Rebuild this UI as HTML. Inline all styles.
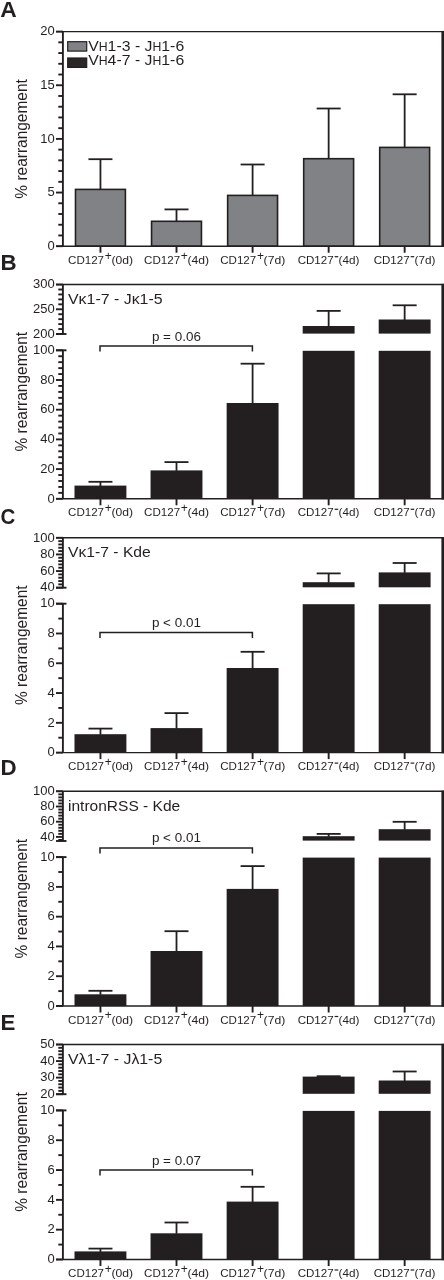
<!DOCTYPE html>
<html><head><meta charset="utf-8"><title>Figure</title>
<style>
html,body{margin:0;padding:0;background:#fff;}
body{width:444px;height:1280px;overflow:hidden;}
svg{display:block;will-change:transform;font-family:"Liberation Sans",sans-serif;}
</style></head>
<body>
<svg width="444" height="1280" viewBox="0 0 444 1280">
<rect x="0" y="0" width="444" height="1280" fill="#ffffff"/>
<text x="0.20" y="16.60" font-size="22.8" text-anchor="start" font-weight="bold" fill="#231f20" >A</text>
<line x1="100.45" y1="159.20" x2="100.45" y2="189.10" stroke="#231f20" stroke-width="1.8"/>
<line x1="88.45" y1="159.20" x2="112.45" y2="159.20" stroke="#231f20" stroke-width="1.8"/>
<rect x="75.50" y="189.40" width="49.90" height="56.80" fill="#808285" stroke="#231f20" stroke-width="1.6"/>
<line x1="176.50" y1="209.40" x2="176.50" y2="221.00" stroke="#231f20" stroke-width="1.8"/>
<line x1="164.50" y1="209.40" x2="188.50" y2="209.40" stroke="#231f20" stroke-width="1.8"/>
<rect x="151.55" y="221.30" width="49.90" height="24.90" fill="#808285" stroke="#231f20" stroke-width="1.6"/>
<line x1="252.60" y1="164.50" x2="252.60" y2="195.10" stroke="#231f20" stroke-width="1.8"/>
<line x1="240.60" y1="164.50" x2="264.60" y2="164.50" stroke="#231f20" stroke-width="1.8"/>
<rect x="227.65" y="195.40" width="49.90" height="50.80" fill="#808285" stroke="#231f20" stroke-width="1.6"/>
<line x1="328.65" y1="108.50" x2="328.65" y2="158.40" stroke="#231f20" stroke-width="1.8"/>
<line x1="316.65" y1="108.50" x2="340.65" y2="108.50" stroke="#231f20" stroke-width="1.8"/>
<rect x="303.70" y="158.70" width="49.90" height="87.50" fill="#808285" stroke="#231f20" stroke-width="1.6"/>
<line x1="404.65" y1="94.30" x2="404.65" y2="147.10" stroke="#231f20" stroke-width="1.8"/>
<line x1="392.65" y1="94.30" x2="416.65" y2="94.30" stroke="#231f20" stroke-width="1.8"/>
<rect x="379.70" y="147.40" width="49.90" height="98.80" fill="#808285" stroke="#231f20" stroke-width="1.6"/>
<line x1="62.90" y1="31.60" x2="62.90" y2="246.20" stroke="#231f20" stroke-width="1.9"/>
<line x1="56.00" y1="31.60" x2="444.00" y2="31.60" stroke="#231f20" stroke-width="1.4"/>
<line x1="56.00" y1="246.20" x2="444.00" y2="246.20" stroke="#231f20" stroke-width="1.4"/>
<rect x="441.40" y="30.90" width="2.60" height="216.00" fill="#231f20"/>
<line x1="56.00" y1="246.20" x2="62.90" y2="246.20" stroke="#231f20" stroke-width="1.9"/>
<text x="54.70" y="249.90" font-size="13" text-anchor="end" fill="#231f20" >0</text>
<line x1="58.30" y1="235.47" x2="62.90" y2="235.47" stroke="#231f20" stroke-width="1.9"/>
<line x1="58.30" y1="224.74" x2="62.90" y2="224.74" stroke="#231f20" stroke-width="1.9"/>
<line x1="58.30" y1="214.01" x2="62.90" y2="214.01" stroke="#231f20" stroke-width="1.9"/>
<line x1="58.30" y1="203.28" x2="62.90" y2="203.28" stroke="#231f20" stroke-width="1.9"/>
<line x1="56.00" y1="192.55" x2="62.90" y2="192.55" stroke="#231f20" stroke-width="1.9"/>
<text x="54.70" y="196.25" font-size="13" text-anchor="end" fill="#231f20" >5</text>
<line x1="58.30" y1="181.82" x2="62.90" y2="181.82" stroke="#231f20" stroke-width="1.9"/>
<line x1="58.30" y1="171.09" x2="62.90" y2="171.09" stroke="#231f20" stroke-width="1.9"/>
<line x1="58.30" y1="160.36" x2="62.90" y2="160.36" stroke="#231f20" stroke-width="1.9"/>
<line x1="58.30" y1="149.63" x2="62.90" y2="149.63" stroke="#231f20" stroke-width="1.9"/>
<line x1="56.00" y1="138.90" x2="62.90" y2="138.90" stroke="#231f20" stroke-width="1.9"/>
<text x="54.70" y="142.60" font-size="13" text-anchor="end" fill="#231f20" >10</text>
<line x1="58.30" y1="128.17" x2="62.90" y2="128.17" stroke="#231f20" stroke-width="1.9"/>
<line x1="58.30" y1="117.44" x2="62.90" y2="117.44" stroke="#231f20" stroke-width="1.9"/>
<line x1="58.30" y1="106.71" x2="62.90" y2="106.71" stroke="#231f20" stroke-width="1.9"/>
<line x1="58.30" y1="95.98" x2="62.90" y2="95.98" stroke="#231f20" stroke-width="1.9"/>
<line x1="56.00" y1="85.25" x2="62.90" y2="85.25" stroke="#231f20" stroke-width="1.9"/>
<text x="54.70" y="88.95" font-size="13" text-anchor="end" fill="#231f20" >15</text>
<line x1="58.30" y1="74.52" x2="62.90" y2="74.52" stroke="#231f20" stroke-width="1.9"/>
<line x1="58.30" y1="63.79" x2="62.90" y2="63.79" stroke="#231f20" stroke-width="1.9"/>
<line x1="58.30" y1="53.06" x2="62.90" y2="53.06" stroke="#231f20" stroke-width="1.9"/>
<line x1="58.30" y1="42.33" x2="62.90" y2="42.33" stroke="#231f20" stroke-width="1.9"/>
<line x1="56.00" y1="31.60" x2="62.90" y2="31.60" stroke="#231f20" stroke-width="1.9"/>
<text x="54.70" y="35.30" font-size="13" text-anchor="end" fill="#231f20" >20</text>
<text transform="translate(26.5,138.90) rotate(-90)" font-size="16.6" text-anchor="middle" textLength="119.5" lengthAdjust="spacingAndGlyphs" fill="#231f20">% rearrangement</text>
<line x1="100.45" y1="246.20" x2="100.45" y2="252.70" stroke="#231f20" stroke-width="1.9"/>
<text x="68.05" y="263.70" font-size="11.8" text-anchor="start" textLength="36.0" lengthAdjust="spacingAndGlyphs" fill="#231f20" >CD127</text>
<text x="104.75" y="259.50" font-size="12.0" text-anchor="start" fill="#231f20" >+</text>
<text x="111.45" y="263.70" font-size="11.8" text-anchor="start" textLength="21.6" lengthAdjust="spacingAndGlyphs" fill="#231f20" >(0d)</text>
<line x1="176.50" y1="246.20" x2="176.50" y2="252.70" stroke="#231f20" stroke-width="1.9"/>
<text x="144.10" y="263.70" font-size="11.8" text-anchor="start" textLength="36.0" lengthAdjust="spacingAndGlyphs" fill="#231f20" >CD127</text>
<text x="180.80" y="259.50" font-size="12.0" text-anchor="start" fill="#231f20" >+</text>
<text x="187.50" y="263.70" font-size="11.8" text-anchor="start" textLength="21.6" lengthAdjust="spacingAndGlyphs" fill="#231f20" >(4d)</text>
<line x1="252.60" y1="246.20" x2="252.60" y2="252.70" stroke="#231f20" stroke-width="1.9"/>
<text x="220.20" y="263.70" font-size="11.8" text-anchor="start" textLength="36.0" lengthAdjust="spacingAndGlyphs" fill="#231f20" >CD127</text>
<text x="256.90" y="259.50" font-size="12.0" text-anchor="start" fill="#231f20" >+</text>
<text x="263.60" y="263.70" font-size="11.8" text-anchor="start" textLength="21.6" lengthAdjust="spacingAndGlyphs" fill="#231f20" >(7d)</text>
<line x1="328.65" y1="246.20" x2="328.65" y2="252.70" stroke="#231f20" stroke-width="1.9"/>
<text x="297.65" y="263.70" font-size="11.8" text-anchor="start" textLength="36.0" lengthAdjust="spacingAndGlyphs" fill="#231f20" >CD127</text>
<line x1="334.65" y1="256.70" x2="338.25" y2="256.70" stroke="#231f20" stroke-width="1.2"/>
<text x="338.55" y="263.70" font-size="11.8" text-anchor="start" textLength="20.8" lengthAdjust="spacingAndGlyphs" fill="#231f20" >(4d)</text>
<line x1="404.65" y1="246.20" x2="404.65" y2="252.70" stroke="#231f20" stroke-width="1.9"/>
<text x="373.65" y="263.70" font-size="11.8" text-anchor="start" textLength="36.0" lengthAdjust="spacingAndGlyphs" fill="#231f20" >CD127</text>
<line x1="410.65" y1="256.70" x2="414.25" y2="256.70" stroke="#231f20" stroke-width="1.2"/>
<text x="414.55" y="263.70" font-size="11.8" text-anchor="start" textLength="20.8" lengthAdjust="spacingAndGlyphs" fill="#231f20" >(7d)</text>
<rect x="67.70" y="41.70" width="19.00" height="9.40" fill="#808285" stroke="#231f20" stroke-width="1.2"/>
<rect x="67.70" y="58.00" width="19.00" height="9.40" fill="#2b2728" stroke="#231f20" stroke-width="1.2"/>
<text x="88.2" y="50.5" font-size="15.5" fill="#231f20" textLength="96" lengthAdjust="spacingAndGlyphs">V<tspan font-size="12">H</tspan>1-3 - J<tspan font-size="12">H</tspan>1-6</text>
<text x="88.2" y="65.4" font-size="15.5" fill="#231f20" textLength="96" lengthAdjust="spacingAndGlyphs">V<tspan font-size="12">H</tspan>4-7 - J<tspan font-size="12">H</tspan>1-6</text>
<text x="0.60" y="269.80" font-size="22.3" text-anchor="start" font-weight="bold" fill="#231f20" >B</text>
<line x1="100.45" y1="481.80" x2="100.45" y2="486.10" stroke="#231f20" stroke-width="1.8"/>
<line x1="88.45" y1="481.80" x2="112.45" y2="481.80" stroke="#231f20" stroke-width="1.8"/>
<rect x="74.50" y="485.60" width="51.90" height="13.20" fill="#231f20"/>
<line x1="176.50" y1="462.10" x2="176.50" y2="470.90" stroke="#231f20" stroke-width="1.8"/>
<line x1="164.50" y1="462.10" x2="188.50" y2="462.10" stroke="#231f20" stroke-width="1.8"/>
<rect x="150.55" y="470.40" width="51.90" height="28.40" fill="#231f20"/>
<line x1="252.60" y1="363.70" x2="252.60" y2="403.50" stroke="#231f20" stroke-width="1.8"/>
<line x1="240.60" y1="363.70" x2="264.60" y2="363.70" stroke="#231f20" stroke-width="1.8"/>
<rect x="226.65" y="403.00" width="51.90" height="95.80" fill="#231f20"/>
<line x1="328.65" y1="310.90" x2="328.65" y2="326.50" stroke="#231f20" stroke-width="1.8"/>
<line x1="316.65" y1="310.90" x2="340.65" y2="310.90" stroke="#231f20" stroke-width="1.8"/>
<rect x="302.70" y="326.00" width="51.90" height="7.60" fill="#231f20"/>
<rect x="302.70" y="350.80" width="51.90" height="148.00" fill="#231f20"/>
<line x1="404.65" y1="305.30" x2="404.65" y2="320.00" stroke="#231f20" stroke-width="1.8"/>
<line x1="392.65" y1="305.30" x2="416.65" y2="305.30" stroke="#231f20" stroke-width="1.8"/>
<rect x="378.70" y="319.50" width="51.90" height="14.10" fill="#231f20"/>
<rect x="378.70" y="350.80" width="51.90" height="148.00" fill="#231f20"/>
<line x1="62.90" y1="284.55" x2="62.90" y2="334.00" stroke="#231f20" stroke-width="1.9"/>
<line x1="62.90" y1="350.30" x2="62.90" y2="498.80" stroke="#231f20" stroke-width="1.9"/>
<line x1="56.00" y1="284.55" x2="444.00" y2="284.55" stroke="#231f20" stroke-width="1.4"/>
<line x1="56.00" y1="498.80" x2="444.00" y2="498.80" stroke="#231f20" stroke-width="1.4"/>
<rect x="441.40" y="283.85" width="2.60" height="215.65" fill="#231f20"/>
<line x1="56.00" y1="334.00" x2="66.50" y2="334.00" stroke="#231f20" stroke-width="1.9"/>
<line x1="56.00" y1="350.30" x2="66.50" y2="350.30" stroke="#231f20" stroke-width="1.9"/>
<line x1="56.00" y1="284.55" x2="62.90" y2="284.55" stroke="#231f20" stroke-width="1.9"/>
<text x="54.70" y="288.25" font-size="13" text-anchor="end" fill="#231f20" >300</text>
<line x1="58.30" y1="289.50" x2="62.90" y2="289.50" stroke="#231f20" stroke-width="1.9"/>
<line x1="58.30" y1="294.44" x2="62.90" y2="294.44" stroke="#231f20" stroke-width="1.9"/>
<line x1="58.30" y1="299.38" x2="62.90" y2="299.38" stroke="#231f20" stroke-width="1.9"/>
<line x1="58.30" y1="304.33" x2="62.90" y2="304.33" stroke="#231f20" stroke-width="1.9"/>
<line x1="56.00" y1="309.27" x2="62.90" y2="309.27" stroke="#231f20" stroke-width="1.9"/>
<text x="54.70" y="312.97" font-size="13" text-anchor="end" fill="#231f20" >250</text>
<line x1="58.30" y1="314.22" x2="62.90" y2="314.22" stroke="#231f20" stroke-width="1.9"/>
<line x1="58.30" y1="319.16" x2="62.90" y2="319.16" stroke="#231f20" stroke-width="1.9"/>
<line x1="58.30" y1="324.11" x2="62.90" y2="324.11" stroke="#231f20" stroke-width="1.9"/>
<line x1="58.30" y1="329.06" x2="62.90" y2="329.06" stroke="#231f20" stroke-width="1.9"/>
<line x1="56.00" y1="334.00" x2="62.90" y2="334.00" stroke="#231f20" stroke-width="1.9"/>
<text x="54.70" y="337.70" font-size="13" text-anchor="end" fill="#231f20" >200</text>
<line x1="56.00" y1="350.30" x2="62.90" y2="350.30" stroke="#231f20" stroke-width="1.9"/>
<text x="54.70" y="354.00" font-size="13" text-anchor="end" fill="#231f20" >100</text>
<line x1="58.30" y1="356.24" x2="62.90" y2="356.24" stroke="#231f20" stroke-width="1.9"/>
<line x1="58.30" y1="362.18" x2="62.90" y2="362.18" stroke="#231f20" stroke-width="1.9"/>
<line x1="58.30" y1="368.12" x2="62.90" y2="368.12" stroke="#231f20" stroke-width="1.9"/>
<line x1="58.30" y1="374.06" x2="62.90" y2="374.06" stroke="#231f20" stroke-width="1.9"/>
<line x1="56.00" y1="380.00" x2="62.90" y2="380.00" stroke="#231f20" stroke-width="1.9"/>
<text x="54.70" y="383.70" font-size="13" text-anchor="end" fill="#231f20" >80</text>
<line x1="58.30" y1="385.94" x2="62.90" y2="385.94" stroke="#231f20" stroke-width="1.9"/>
<line x1="58.30" y1="391.88" x2="62.90" y2="391.88" stroke="#231f20" stroke-width="1.9"/>
<line x1="58.30" y1="397.82" x2="62.90" y2="397.82" stroke="#231f20" stroke-width="1.9"/>
<line x1="58.30" y1="403.76" x2="62.90" y2="403.76" stroke="#231f20" stroke-width="1.9"/>
<line x1="56.00" y1="409.70" x2="62.90" y2="409.70" stroke="#231f20" stroke-width="1.9"/>
<text x="54.70" y="413.40" font-size="13" text-anchor="end" fill="#231f20" >60</text>
<line x1="58.30" y1="415.64" x2="62.90" y2="415.64" stroke="#231f20" stroke-width="1.9"/>
<line x1="58.30" y1="421.58" x2="62.90" y2="421.58" stroke="#231f20" stroke-width="1.9"/>
<line x1="58.30" y1="427.52" x2="62.90" y2="427.52" stroke="#231f20" stroke-width="1.9"/>
<line x1="58.30" y1="433.46" x2="62.90" y2="433.46" stroke="#231f20" stroke-width="1.9"/>
<line x1="56.00" y1="439.40" x2="62.90" y2="439.40" stroke="#231f20" stroke-width="1.9"/>
<text x="54.70" y="443.10" font-size="13" text-anchor="end" fill="#231f20" >40</text>
<line x1="58.30" y1="445.34" x2="62.90" y2="445.34" stroke="#231f20" stroke-width="1.9"/>
<line x1="58.30" y1="451.28" x2="62.90" y2="451.28" stroke="#231f20" stroke-width="1.9"/>
<line x1="58.30" y1="457.22" x2="62.90" y2="457.22" stroke="#231f20" stroke-width="1.9"/>
<line x1="58.30" y1="463.16" x2="62.90" y2="463.16" stroke="#231f20" stroke-width="1.9"/>
<line x1="56.00" y1="469.10" x2="62.90" y2="469.10" stroke="#231f20" stroke-width="1.9"/>
<text x="54.70" y="472.80" font-size="13" text-anchor="end" fill="#231f20" >20</text>
<line x1="58.30" y1="475.04" x2="62.90" y2="475.04" stroke="#231f20" stroke-width="1.9"/>
<line x1="58.30" y1="480.98" x2="62.90" y2="480.98" stroke="#231f20" stroke-width="1.9"/>
<line x1="58.30" y1="486.92" x2="62.90" y2="486.92" stroke="#231f20" stroke-width="1.9"/>
<line x1="58.30" y1="492.86" x2="62.90" y2="492.86" stroke="#231f20" stroke-width="1.9"/>
<line x1="56.00" y1="498.80" x2="62.90" y2="498.80" stroke="#231f20" stroke-width="1.9"/>
<text x="54.70" y="502.50" font-size="13" text-anchor="end" fill="#231f20" >0</text>
<text transform="translate(26.5,391.68) rotate(-90)" font-size="16.6" text-anchor="middle" textLength="119.5" lengthAdjust="spacingAndGlyphs" fill="#231f20">% rearrangement</text>
<line x1="100.45" y1="498.80" x2="100.45" y2="505.30" stroke="#231f20" stroke-width="1.9"/>
<text x="68.05" y="516.30" font-size="11.8" text-anchor="start" textLength="36.0" lengthAdjust="spacingAndGlyphs" fill="#231f20" >CD127</text>
<text x="104.75" y="512.10" font-size="12.0" text-anchor="start" fill="#231f20" >+</text>
<text x="111.45" y="516.30" font-size="11.8" text-anchor="start" textLength="21.6" lengthAdjust="spacingAndGlyphs" fill="#231f20" >(0d)</text>
<line x1="176.50" y1="498.80" x2="176.50" y2="505.30" stroke="#231f20" stroke-width="1.9"/>
<text x="144.10" y="516.30" font-size="11.8" text-anchor="start" textLength="36.0" lengthAdjust="spacingAndGlyphs" fill="#231f20" >CD127</text>
<text x="180.80" y="512.10" font-size="12.0" text-anchor="start" fill="#231f20" >+</text>
<text x="187.50" y="516.30" font-size="11.8" text-anchor="start" textLength="21.6" lengthAdjust="spacingAndGlyphs" fill="#231f20" >(4d)</text>
<line x1="252.60" y1="498.80" x2="252.60" y2="505.30" stroke="#231f20" stroke-width="1.9"/>
<text x="220.20" y="516.30" font-size="11.8" text-anchor="start" textLength="36.0" lengthAdjust="spacingAndGlyphs" fill="#231f20" >CD127</text>
<text x="256.90" y="512.10" font-size="12.0" text-anchor="start" fill="#231f20" >+</text>
<text x="263.60" y="516.30" font-size="11.8" text-anchor="start" textLength="21.6" lengthAdjust="spacingAndGlyphs" fill="#231f20" >(7d)</text>
<line x1="328.65" y1="498.80" x2="328.65" y2="505.30" stroke="#231f20" stroke-width="1.9"/>
<text x="297.65" y="516.30" font-size="11.8" text-anchor="start" textLength="36.0" lengthAdjust="spacingAndGlyphs" fill="#231f20" >CD127</text>
<line x1="334.65" y1="509.30" x2="338.25" y2="509.30" stroke="#231f20" stroke-width="1.2"/>
<text x="338.55" y="516.30" font-size="11.8" text-anchor="start" textLength="20.8" lengthAdjust="spacingAndGlyphs" fill="#231f20" >(4d)</text>
<line x1="404.65" y1="498.80" x2="404.65" y2="505.30" stroke="#231f20" stroke-width="1.9"/>
<text x="373.65" y="516.30" font-size="11.8" text-anchor="start" textLength="36.0" lengthAdjust="spacingAndGlyphs" fill="#231f20" >CD127</text>
<line x1="410.65" y1="509.30" x2="414.25" y2="509.30" stroke="#231f20" stroke-width="1.2"/>
<text x="414.55" y="516.30" font-size="11.8" text-anchor="start" textLength="20.8" lengthAdjust="spacingAndGlyphs" fill="#231f20" >(7d)</text>
<text x="68.0" y="303.85" font-size="15.5" fill="#231f20" textLength="94.6" lengthAdjust="spacingAndGlyphs">V&#954;1-7 - J&#954;1-5</text>
<path d="M100.0 351.40 V345.90 H252.4 V351.40" fill="none" stroke="#231f20" stroke-width="1.5"/>
<text x="151.90" y="341.10" font-size="12.6" text-anchor="start" textLength="49.0" lengthAdjust="spacingAndGlyphs" fill="#231f20" >p = 0.06</text>
<text x="0.60" y="524.00" font-size="22.3" text-anchor="start" font-weight="bold" textLength="14.8" lengthAdjust="spacingAndGlyphs" fill="#231f20" >C</text>
<line x1="100.45" y1="728.60" x2="100.45" y2="734.70" stroke="#231f20" stroke-width="1.8"/>
<line x1="88.45" y1="728.60" x2="112.45" y2="728.60" stroke="#231f20" stroke-width="1.8"/>
<rect x="74.50" y="734.20" width="51.90" height="18.40" fill="#231f20"/>
<line x1="176.50" y1="713.10" x2="176.50" y2="728.60" stroke="#231f20" stroke-width="1.8"/>
<line x1="164.50" y1="713.10" x2="188.50" y2="713.10" stroke="#231f20" stroke-width="1.8"/>
<rect x="150.55" y="728.10" width="51.90" height="24.50" fill="#231f20"/>
<line x1="252.60" y1="651.80" x2="252.60" y2="668.50" stroke="#231f20" stroke-width="1.8"/>
<line x1="240.60" y1="651.80" x2="264.60" y2="651.80" stroke="#231f20" stroke-width="1.8"/>
<rect x="226.65" y="668.00" width="51.90" height="84.60" fill="#231f20"/>
<line x1="328.65" y1="573.40" x2="328.65" y2="582.70" stroke="#231f20" stroke-width="1.8"/>
<line x1="316.65" y1="573.40" x2="340.65" y2="573.40" stroke="#231f20" stroke-width="1.8"/>
<rect x="302.70" y="582.20" width="51.90" height="5.10" fill="#231f20"/>
<rect x="302.70" y="604.20" width="51.90" height="148.40" fill="#231f20"/>
<line x1="404.65" y1="563.00" x2="404.65" y2="572.90" stroke="#231f20" stroke-width="1.8"/>
<line x1="392.65" y1="563.00" x2="416.65" y2="563.00" stroke="#231f20" stroke-width="1.8"/>
<rect x="378.70" y="572.40" width="51.90" height="14.90" fill="#231f20"/>
<rect x="378.70" y="604.20" width="51.90" height="148.40" fill="#231f20"/>
<line x1="62.90" y1="537.80" x2="62.90" y2="587.70" stroke="#231f20" stroke-width="1.9"/>
<line x1="62.90" y1="603.70" x2="62.90" y2="752.60" stroke="#231f20" stroke-width="1.9"/>
<line x1="56.00" y1="537.80" x2="444.00" y2="537.80" stroke="#231f20" stroke-width="1.4"/>
<line x1="56.00" y1="752.60" x2="444.00" y2="752.60" stroke="#231f20" stroke-width="1.4"/>
<rect x="441.40" y="537.10" width="2.60" height="216.20" fill="#231f20"/>
<line x1="56.00" y1="587.70" x2="66.50" y2="587.70" stroke="#231f20" stroke-width="1.9"/>
<line x1="56.00" y1="603.70" x2="66.50" y2="603.70" stroke="#231f20" stroke-width="1.9"/>
<line x1="56.00" y1="537.80" x2="62.90" y2="537.80" stroke="#231f20" stroke-width="1.9"/>
<text x="54.70" y="541.50" font-size="13" text-anchor="end" fill="#231f20" >100</text>
<line x1="58.30" y1="541.13" x2="62.90" y2="541.13" stroke="#231f20" stroke-width="1.9"/>
<line x1="58.30" y1="544.45" x2="62.90" y2="544.45" stroke="#231f20" stroke-width="1.9"/>
<line x1="58.30" y1="547.78" x2="62.90" y2="547.78" stroke="#231f20" stroke-width="1.9"/>
<line x1="58.30" y1="551.11" x2="62.90" y2="551.11" stroke="#231f20" stroke-width="1.9"/>
<line x1="56.00" y1="554.43" x2="62.90" y2="554.43" stroke="#231f20" stroke-width="1.9"/>
<text x="54.70" y="558.13" font-size="13" text-anchor="end" fill="#231f20" >80</text>
<line x1="58.30" y1="557.76" x2="62.90" y2="557.76" stroke="#231f20" stroke-width="1.9"/>
<line x1="58.30" y1="561.09" x2="62.90" y2="561.09" stroke="#231f20" stroke-width="1.9"/>
<line x1="58.30" y1="564.41" x2="62.90" y2="564.41" stroke="#231f20" stroke-width="1.9"/>
<line x1="58.30" y1="567.74" x2="62.90" y2="567.74" stroke="#231f20" stroke-width="1.9"/>
<line x1="56.00" y1="571.07" x2="62.90" y2="571.07" stroke="#231f20" stroke-width="1.9"/>
<text x="54.70" y="574.77" font-size="13" text-anchor="end" fill="#231f20" >60</text>
<line x1="58.30" y1="574.39" x2="62.90" y2="574.39" stroke="#231f20" stroke-width="1.9"/>
<line x1="58.30" y1="577.72" x2="62.90" y2="577.72" stroke="#231f20" stroke-width="1.9"/>
<line x1="58.30" y1="581.05" x2="62.90" y2="581.05" stroke="#231f20" stroke-width="1.9"/>
<line x1="58.30" y1="584.37" x2="62.90" y2="584.37" stroke="#231f20" stroke-width="1.9"/>
<line x1="56.00" y1="587.70" x2="62.90" y2="587.70" stroke="#231f20" stroke-width="1.9"/>
<text x="54.70" y="591.40" font-size="13" text-anchor="end" fill="#231f20" >40</text>
<line x1="56.00" y1="603.70" x2="62.90" y2="603.70" stroke="#231f20" stroke-width="1.9"/>
<text x="54.70" y="607.40" font-size="13" text-anchor="end" fill="#231f20" >10</text>
<line x1="58.30" y1="618.59" x2="62.90" y2="618.59" stroke="#231f20" stroke-width="1.9"/>
<line x1="56.00" y1="633.48" x2="62.90" y2="633.48" stroke="#231f20" stroke-width="1.9"/>
<text x="54.70" y="637.18" font-size="13" text-anchor="end" fill="#231f20" >8</text>
<line x1="58.30" y1="648.37" x2="62.90" y2="648.37" stroke="#231f20" stroke-width="1.9"/>
<line x1="56.00" y1="663.26" x2="62.90" y2="663.26" stroke="#231f20" stroke-width="1.9"/>
<text x="54.70" y="666.96" font-size="13" text-anchor="end" fill="#231f20" >6</text>
<line x1="58.30" y1="678.15" x2="62.90" y2="678.15" stroke="#231f20" stroke-width="1.9"/>
<line x1="56.00" y1="693.04" x2="62.90" y2="693.04" stroke="#231f20" stroke-width="1.9"/>
<text x="54.70" y="696.74" font-size="13" text-anchor="end" fill="#231f20" >4</text>
<line x1="58.30" y1="707.93" x2="62.90" y2="707.93" stroke="#231f20" stroke-width="1.9"/>
<line x1="56.00" y1="722.82" x2="62.90" y2="722.82" stroke="#231f20" stroke-width="1.9"/>
<text x="54.70" y="726.52" font-size="13" text-anchor="end" fill="#231f20" >2</text>
<line x1="58.30" y1="737.71" x2="62.90" y2="737.71" stroke="#231f20" stroke-width="1.9"/>
<line x1="56.00" y1="752.60" x2="62.90" y2="752.60" stroke="#231f20" stroke-width="1.9"/>
<text x="54.70" y="756.30" font-size="13" text-anchor="end" fill="#231f20" >0</text>
<text transform="translate(26.5,645.20) rotate(-90)" font-size="16.6" text-anchor="middle" textLength="119.5" lengthAdjust="spacingAndGlyphs" fill="#231f20">% rearrangement</text>
<line x1="100.45" y1="752.60" x2="100.45" y2="759.10" stroke="#231f20" stroke-width="1.9"/>
<text x="68.05" y="770.10" font-size="11.8" text-anchor="start" textLength="36.0" lengthAdjust="spacingAndGlyphs" fill="#231f20" >CD127</text>
<text x="104.75" y="765.90" font-size="12.0" text-anchor="start" fill="#231f20" >+</text>
<text x="111.45" y="770.10" font-size="11.8" text-anchor="start" textLength="21.6" lengthAdjust="spacingAndGlyphs" fill="#231f20" >(0d)</text>
<line x1="176.50" y1="752.60" x2="176.50" y2="759.10" stroke="#231f20" stroke-width="1.9"/>
<text x="144.10" y="770.10" font-size="11.8" text-anchor="start" textLength="36.0" lengthAdjust="spacingAndGlyphs" fill="#231f20" >CD127</text>
<text x="180.80" y="765.90" font-size="12.0" text-anchor="start" fill="#231f20" >+</text>
<text x="187.50" y="770.10" font-size="11.8" text-anchor="start" textLength="21.6" lengthAdjust="spacingAndGlyphs" fill="#231f20" >(4d)</text>
<line x1="252.60" y1="752.60" x2="252.60" y2="759.10" stroke="#231f20" stroke-width="1.9"/>
<text x="220.20" y="770.10" font-size="11.8" text-anchor="start" textLength="36.0" lengthAdjust="spacingAndGlyphs" fill="#231f20" >CD127</text>
<text x="256.90" y="765.90" font-size="12.0" text-anchor="start" fill="#231f20" >+</text>
<text x="263.60" y="770.10" font-size="11.8" text-anchor="start" textLength="21.6" lengthAdjust="spacingAndGlyphs" fill="#231f20" >(7d)</text>
<line x1="328.65" y1="752.60" x2="328.65" y2="759.10" stroke="#231f20" stroke-width="1.9"/>
<text x="297.65" y="770.10" font-size="11.8" text-anchor="start" textLength="36.0" lengthAdjust="spacingAndGlyphs" fill="#231f20" >CD127</text>
<line x1="334.65" y1="763.10" x2="338.25" y2="763.10" stroke="#231f20" stroke-width="1.2"/>
<text x="338.55" y="770.10" font-size="11.8" text-anchor="start" textLength="20.8" lengthAdjust="spacingAndGlyphs" fill="#231f20" >(4d)</text>
<line x1="404.65" y1="752.60" x2="404.65" y2="759.10" stroke="#231f20" stroke-width="1.9"/>
<text x="373.65" y="770.10" font-size="11.8" text-anchor="start" textLength="36.0" lengthAdjust="spacingAndGlyphs" fill="#231f20" >CD127</text>
<line x1="410.65" y1="763.10" x2="414.25" y2="763.10" stroke="#231f20" stroke-width="1.2"/>
<text x="414.55" y="770.10" font-size="11.8" text-anchor="start" textLength="20.8" lengthAdjust="spacingAndGlyphs" fill="#231f20" >(7d)</text>
<text x="68.0" y="557.10" font-size="15.5" fill="#231f20" textLength="82.8" lengthAdjust="spacingAndGlyphs">V&#954;1-7 - Kde</text>
<path d="M100.0 638.10 V632.60 H252.4 V638.10" fill="none" stroke="#231f20" stroke-width="1.5"/>
<text x="151.90" y="627.10" font-size="12.6" text-anchor="start" textLength="49.0" lengthAdjust="spacingAndGlyphs" fill="#231f20" >p &lt; 0.01</text>
<text x="0.60" y="775.40" font-size="22.3" text-anchor="start" font-weight="bold" fill="#231f20" >D</text>
<line x1="100.45" y1="990.80" x2="100.45" y2="994.80" stroke="#231f20" stroke-width="1.8"/>
<line x1="88.45" y1="990.80" x2="112.45" y2="990.80" stroke="#231f20" stroke-width="1.8"/>
<rect x="74.50" y="994.30" width="51.90" height="11.70" fill="#231f20"/>
<line x1="176.50" y1="931.20" x2="176.50" y2="951.50" stroke="#231f20" stroke-width="1.8"/>
<line x1="164.50" y1="931.20" x2="188.50" y2="931.20" stroke="#231f20" stroke-width="1.8"/>
<rect x="150.55" y="951.00" width="51.90" height="55.00" fill="#231f20"/>
<line x1="252.60" y1="866.10" x2="252.60" y2="889.40" stroke="#231f20" stroke-width="1.8"/>
<line x1="240.60" y1="866.10" x2="264.60" y2="866.10" stroke="#231f20" stroke-width="1.8"/>
<rect x="226.65" y="888.90" width="51.90" height="117.10" fill="#231f20"/>
<line x1="328.65" y1="833.90" x2="328.65" y2="836.70" stroke="#231f20" stroke-width="1.8"/>
<line x1="316.65" y1="833.90" x2="340.65" y2="833.90" stroke="#231f20" stroke-width="1.8"/>
<rect x="302.70" y="836.20" width="51.90" height="4.40" fill="#231f20"/>
<rect x="302.70" y="857.60" width="51.90" height="148.40" fill="#231f20"/>
<line x1="404.65" y1="821.80" x2="404.65" y2="829.70" stroke="#231f20" stroke-width="1.8"/>
<line x1="392.65" y1="821.80" x2="416.65" y2="821.80" stroke="#231f20" stroke-width="1.8"/>
<rect x="378.70" y="829.20" width="51.90" height="11.40" fill="#231f20"/>
<rect x="378.70" y="857.60" width="51.90" height="148.40" fill="#231f20"/>
<line x1="62.90" y1="791.30" x2="62.90" y2="841.00" stroke="#231f20" stroke-width="1.9"/>
<line x1="62.90" y1="857.10" x2="62.90" y2="1006.00" stroke="#231f20" stroke-width="1.9"/>
<line x1="56.00" y1="791.30" x2="444.00" y2="791.30" stroke="#231f20" stroke-width="1.4"/>
<line x1="56.00" y1="1006.00" x2="444.00" y2="1006.00" stroke="#231f20" stroke-width="1.4"/>
<rect x="441.40" y="790.60" width="2.60" height="216.10" fill="#231f20"/>
<line x1="56.00" y1="841.00" x2="66.50" y2="841.00" stroke="#231f20" stroke-width="1.9"/>
<line x1="56.00" y1="857.10" x2="66.50" y2="857.10" stroke="#231f20" stroke-width="1.9"/>
<line x1="56.00" y1="791.30" x2="62.90" y2="791.30" stroke="#231f20" stroke-width="1.9"/>
<text x="54.70" y="795.00" font-size="13" text-anchor="end" fill="#231f20" >100</text>
<line x1="58.30" y1="794.34" x2="62.90" y2="794.34" stroke="#231f20" stroke-width="1.9"/>
<line x1="58.30" y1="797.38" x2="62.90" y2="797.38" stroke="#231f20" stroke-width="1.9"/>
<line x1="58.30" y1="800.42" x2="62.90" y2="800.42" stroke="#231f20" stroke-width="1.9"/>
<line x1="58.30" y1="803.46" x2="62.90" y2="803.46" stroke="#231f20" stroke-width="1.9"/>
<line x1="56.00" y1="806.50" x2="62.90" y2="806.50" stroke="#231f20" stroke-width="1.9"/>
<text x="54.70" y="810.20" font-size="13" text-anchor="end" fill="#231f20" >80</text>
<line x1="58.30" y1="809.54" x2="62.90" y2="809.54" stroke="#231f20" stroke-width="1.9"/>
<line x1="58.30" y1="812.58" x2="62.90" y2="812.58" stroke="#231f20" stroke-width="1.9"/>
<line x1="58.30" y1="815.62" x2="62.90" y2="815.62" stroke="#231f20" stroke-width="1.9"/>
<line x1="58.30" y1="818.66" x2="62.90" y2="818.66" stroke="#231f20" stroke-width="1.9"/>
<line x1="56.00" y1="821.70" x2="62.90" y2="821.70" stroke="#231f20" stroke-width="1.9"/>
<text x="54.70" y="825.40" font-size="13" text-anchor="end" fill="#231f20" >60</text>
<line x1="58.30" y1="824.74" x2="62.90" y2="824.74" stroke="#231f20" stroke-width="1.9"/>
<line x1="58.30" y1="827.78" x2="62.90" y2="827.78" stroke="#231f20" stroke-width="1.9"/>
<line x1="58.30" y1="830.82" x2="62.90" y2="830.82" stroke="#231f20" stroke-width="1.9"/>
<line x1="58.30" y1="833.86" x2="62.90" y2="833.86" stroke="#231f20" stroke-width="1.9"/>
<line x1="56.00" y1="836.90" x2="62.90" y2="836.90" stroke="#231f20" stroke-width="1.9"/>
<text x="54.70" y="840.60" font-size="13" text-anchor="end" fill="#231f20" >40</text>
<line x1="58.30" y1="839.94" x2="62.90" y2="839.94" stroke="#231f20" stroke-width="1.9"/>
<line x1="56.00" y1="857.10" x2="62.90" y2="857.10" stroke="#231f20" stroke-width="1.9"/>
<text x="54.70" y="860.80" font-size="13" text-anchor="end" fill="#231f20" >10</text>
<line x1="58.30" y1="871.99" x2="62.90" y2="871.99" stroke="#231f20" stroke-width="1.9"/>
<line x1="56.00" y1="886.88" x2="62.90" y2="886.88" stroke="#231f20" stroke-width="1.9"/>
<text x="54.70" y="890.58" font-size="13" text-anchor="end" fill="#231f20" >8</text>
<line x1="58.30" y1="901.77" x2="62.90" y2="901.77" stroke="#231f20" stroke-width="1.9"/>
<line x1="56.00" y1="916.66" x2="62.90" y2="916.66" stroke="#231f20" stroke-width="1.9"/>
<text x="54.70" y="920.36" font-size="13" text-anchor="end" fill="#231f20" >6</text>
<line x1="58.30" y1="931.55" x2="62.90" y2="931.55" stroke="#231f20" stroke-width="1.9"/>
<line x1="56.00" y1="946.44" x2="62.90" y2="946.44" stroke="#231f20" stroke-width="1.9"/>
<text x="54.70" y="950.14" font-size="13" text-anchor="end" fill="#231f20" >4</text>
<line x1="58.30" y1="961.33" x2="62.90" y2="961.33" stroke="#231f20" stroke-width="1.9"/>
<line x1="56.00" y1="976.22" x2="62.90" y2="976.22" stroke="#231f20" stroke-width="1.9"/>
<text x="54.70" y="979.92" font-size="13" text-anchor="end" fill="#231f20" >2</text>
<line x1="58.30" y1="991.11" x2="62.90" y2="991.11" stroke="#231f20" stroke-width="1.9"/>
<line x1="56.00" y1="1006.00" x2="62.90" y2="1006.00" stroke="#231f20" stroke-width="1.9"/>
<text x="54.70" y="1009.70" font-size="13" text-anchor="end" fill="#231f20" >0</text>
<text transform="translate(26.5,898.65) rotate(-90)" font-size="16.6" text-anchor="middle" textLength="119.5" lengthAdjust="spacingAndGlyphs" fill="#231f20">% rearrangement</text>
<line x1="100.45" y1="1006.00" x2="100.45" y2="1012.50" stroke="#231f20" stroke-width="1.9"/>
<text x="68.05" y="1023.50" font-size="11.8" text-anchor="start" textLength="36.0" lengthAdjust="spacingAndGlyphs" fill="#231f20" >CD127</text>
<text x="104.75" y="1019.30" font-size="12.0" text-anchor="start" fill="#231f20" >+</text>
<text x="111.45" y="1023.50" font-size="11.8" text-anchor="start" textLength="21.6" lengthAdjust="spacingAndGlyphs" fill="#231f20" >(0d)</text>
<line x1="176.50" y1="1006.00" x2="176.50" y2="1012.50" stroke="#231f20" stroke-width="1.9"/>
<text x="144.10" y="1023.50" font-size="11.8" text-anchor="start" textLength="36.0" lengthAdjust="spacingAndGlyphs" fill="#231f20" >CD127</text>
<text x="180.80" y="1019.30" font-size="12.0" text-anchor="start" fill="#231f20" >+</text>
<text x="187.50" y="1023.50" font-size="11.8" text-anchor="start" textLength="21.6" lengthAdjust="spacingAndGlyphs" fill="#231f20" >(4d)</text>
<line x1="252.60" y1="1006.00" x2="252.60" y2="1012.50" stroke="#231f20" stroke-width="1.9"/>
<text x="220.20" y="1023.50" font-size="11.8" text-anchor="start" textLength="36.0" lengthAdjust="spacingAndGlyphs" fill="#231f20" >CD127</text>
<text x="256.90" y="1019.30" font-size="12.0" text-anchor="start" fill="#231f20" >+</text>
<text x="263.60" y="1023.50" font-size="11.8" text-anchor="start" textLength="21.6" lengthAdjust="spacingAndGlyphs" fill="#231f20" >(7d)</text>
<line x1="328.65" y1="1006.00" x2="328.65" y2="1012.50" stroke="#231f20" stroke-width="1.9"/>
<text x="297.65" y="1023.50" font-size="11.8" text-anchor="start" textLength="36.0" lengthAdjust="spacingAndGlyphs" fill="#231f20" >CD127</text>
<line x1="334.65" y1="1016.50" x2="338.25" y2="1016.50" stroke="#231f20" stroke-width="1.2"/>
<text x="338.55" y="1023.50" font-size="11.8" text-anchor="start" textLength="20.8" lengthAdjust="spacingAndGlyphs" fill="#231f20" >(4d)</text>
<line x1="404.65" y1="1006.00" x2="404.65" y2="1012.50" stroke="#231f20" stroke-width="1.9"/>
<text x="373.65" y="1023.50" font-size="11.8" text-anchor="start" textLength="36.0" lengthAdjust="spacingAndGlyphs" fill="#231f20" >CD127</text>
<line x1="410.65" y1="1016.50" x2="414.25" y2="1016.50" stroke="#231f20" stroke-width="1.2"/>
<text x="414.55" y="1023.50" font-size="11.8" text-anchor="start" textLength="20.8" lengthAdjust="spacingAndGlyphs" fill="#231f20" >(7d)</text>
<text x="68.0" y="810.60" font-size="15.5" fill="#231f20" textLength="112.2" lengthAdjust="spacingAndGlyphs">intronRSS - Kde</text>
<path d="M100.0 853.50 V848.00 H252.4 V853.50" fill="none" stroke="#231f20" stroke-width="1.5"/>
<text x="151.90" y="842.30" font-size="12.6" text-anchor="start" textLength="49.0" lengthAdjust="spacingAndGlyphs" fill="#231f20" >p &lt; 0.01</text>
<text x="0.60" y="1030.00" font-size="22.3" text-anchor="start" font-weight="bold" fill="#231f20" >E</text>
<line x1="100.45" y1="1248.60" x2="100.45" y2="1251.90" stroke="#231f20" stroke-width="1.8"/>
<line x1="88.45" y1="1248.60" x2="112.45" y2="1248.60" stroke="#231f20" stroke-width="1.8"/>
<rect x="74.50" y="1251.40" width="51.90" height="8.10" fill="#231f20"/>
<line x1="176.50" y1="1222.50" x2="176.50" y2="1233.80" stroke="#231f20" stroke-width="1.8"/>
<line x1="164.50" y1="1222.50" x2="188.50" y2="1222.50" stroke="#231f20" stroke-width="1.8"/>
<rect x="150.55" y="1233.30" width="51.90" height="26.20" fill="#231f20"/>
<line x1="252.60" y1="1186.80" x2="252.60" y2="1202.10" stroke="#231f20" stroke-width="1.8"/>
<line x1="240.60" y1="1186.80" x2="264.60" y2="1186.80" stroke="#231f20" stroke-width="1.8"/>
<rect x="226.65" y="1201.60" width="51.90" height="57.90" fill="#231f20"/>
<line x1="328.65" y1="1076.20" x2="328.65" y2="1077.10" stroke="#231f20" stroke-width="1.8"/>
<line x1="316.65" y1="1076.20" x2="340.65" y2="1076.20" stroke="#231f20" stroke-width="1.8"/>
<rect x="302.70" y="1076.60" width="51.90" height="17.20" fill="#231f20"/>
<rect x="302.70" y="1110.90" width="51.90" height="148.60" fill="#231f20"/>
<line x1="404.65" y1="1071.50" x2="404.65" y2="1081.00" stroke="#231f20" stroke-width="1.8"/>
<line x1="392.65" y1="1071.50" x2="416.65" y2="1071.50" stroke="#231f20" stroke-width="1.8"/>
<rect x="378.70" y="1080.50" width="51.90" height="13.30" fill="#231f20"/>
<rect x="378.70" y="1110.90" width="51.90" height="148.60" fill="#231f20"/>
<line x1="62.90" y1="1044.50" x2="62.90" y2="1094.20" stroke="#231f20" stroke-width="1.9"/>
<line x1="62.90" y1="1110.40" x2="62.90" y2="1259.50" stroke="#231f20" stroke-width="1.9"/>
<line x1="56.00" y1="1044.50" x2="444.00" y2="1044.50" stroke="#231f20" stroke-width="1.4"/>
<line x1="56.00" y1="1259.50" x2="444.00" y2="1259.50" stroke="#231f20" stroke-width="1.4"/>
<rect x="441.40" y="1043.80" width="2.60" height="216.40" fill="#231f20"/>
<line x1="56.00" y1="1094.20" x2="66.50" y2="1094.20" stroke="#231f20" stroke-width="1.9"/>
<line x1="56.00" y1="1110.40" x2="66.50" y2="1110.40" stroke="#231f20" stroke-width="1.9"/>
<line x1="56.00" y1="1044.50" x2="62.90" y2="1044.50" stroke="#231f20" stroke-width="1.9"/>
<text x="54.70" y="1048.20" font-size="13" text-anchor="end" fill="#231f20" >50</text>
<line x1="58.30" y1="1047.81" x2="62.90" y2="1047.81" stroke="#231f20" stroke-width="1.9"/>
<line x1="58.30" y1="1051.13" x2="62.90" y2="1051.13" stroke="#231f20" stroke-width="1.9"/>
<line x1="58.30" y1="1054.44" x2="62.90" y2="1054.44" stroke="#231f20" stroke-width="1.9"/>
<line x1="58.30" y1="1057.75" x2="62.90" y2="1057.75" stroke="#231f20" stroke-width="1.9"/>
<line x1="56.00" y1="1061.07" x2="62.90" y2="1061.07" stroke="#231f20" stroke-width="1.9"/>
<text x="54.70" y="1064.77" font-size="13" text-anchor="end" fill="#231f20" >40</text>
<line x1="58.30" y1="1064.38" x2="62.90" y2="1064.38" stroke="#231f20" stroke-width="1.9"/>
<line x1="58.30" y1="1067.69" x2="62.90" y2="1067.69" stroke="#231f20" stroke-width="1.9"/>
<line x1="58.30" y1="1071.01" x2="62.90" y2="1071.01" stroke="#231f20" stroke-width="1.9"/>
<line x1="58.30" y1="1074.32" x2="62.90" y2="1074.32" stroke="#231f20" stroke-width="1.9"/>
<line x1="56.00" y1="1077.63" x2="62.90" y2="1077.63" stroke="#231f20" stroke-width="1.9"/>
<text x="54.70" y="1081.33" font-size="13" text-anchor="end" fill="#231f20" >30</text>
<line x1="58.30" y1="1080.95" x2="62.90" y2="1080.95" stroke="#231f20" stroke-width="1.9"/>
<line x1="58.30" y1="1084.26" x2="62.90" y2="1084.26" stroke="#231f20" stroke-width="1.9"/>
<line x1="58.30" y1="1087.57" x2="62.90" y2="1087.57" stroke="#231f20" stroke-width="1.9"/>
<line x1="58.30" y1="1090.89" x2="62.90" y2="1090.89" stroke="#231f20" stroke-width="1.9"/>
<line x1="56.00" y1="1094.20" x2="62.90" y2="1094.20" stroke="#231f20" stroke-width="1.9"/>
<text x="54.70" y="1097.90" font-size="13" text-anchor="end" fill="#231f20" >20</text>
<line x1="56.00" y1="1110.40" x2="62.90" y2="1110.40" stroke="#231f20" stroke-width="1.9"/>
<text x="54.70" y="1114.10" font-size="13" text-anchor="end" fill="#231f20" >10</text>
<line x1="58.30" y1="1125.31" x2="62.90" y2="1125.31" stroke="#231f20" stroke-width="1.9"/>
<line x1="56.00" y1="1140.22" x2="62.90" y2="1140.22" stroke="#231f20" stroke-width="1.9"/>
<text x="54.70" y="1143.92" font-size="13" text-anchor="end" fill="#231f20" >8</text>
<line x1="58.30" y1="1155.13" x2="62.90" y2="1155.13" stroke="#231f20" stroke-width="1.9"/>
<line x1="56.00" y1="1170.04" x2="62.90" y2="1170.04" stroke="#231f20" stroke-width="1.9"/>
<text x="54.70" y="1173.74" font-size="13" text-anchor="end" fill="#231f20" >6</text>
<line x1="58.30" y1="1184.95" x2="62.90" y2="1184.95" stroke="#231f20" stroke-width="1.9"/>
<line x1="56.00" y1="1199.86" x2="62.90" y2="1199.86" stroke="#231f20" stroke-width="1.9"/>
<text x="54.70" y="1203.56" font-size="13" text-anchor="end" fill="#231f20" >4</text>
<line x1="58.30" y1="1214.77" x2="62.90" y2="1214.77" stroke="#231f20" stroke-width="1.9"/>
<line x1="56.00" y1="1229.68" x2="62.90" y2="1229.68" stroke="#231f20" stroke-width="1.9"/>
<text x="54.70" y="1233.38" font-size="13" text-anchor="end" fill="#231f20" >2</text>
<line x1="58.30" y1="1244.59" x2="62.90" y2="1244.59" stroke="#231f20" stroke-width="1.9"/>
<line x1="56.00" y1="1259.50" x2="62.90" y2="1259.50" stroke="#231f20" stroke-width="1.9"/>
<text x="54.70" y="1263.20" font-size="13" text-anchor="end" fill="#231f20" >0</text>
<text transform="translate(26.5,1152.00) rotate(-90)" font-size="16.6" text-anchor="middle" textLength="119.5" lengthAdjust="spacingAndGlyphs" fill="#231f20">% rearrangement</text>
<line x1="100.45" y1="1259.50" x2="100.45" y2="1266.00" stroke="#231f20" stroke-width="1.9"/>
<text x="68.05" y="1277.00" font-size="11.8" text-anchor="start" textLength="36.0" lengthAdjust="spacingAndGlyphs" fill="#231f20" >CD127</text>
<text x="104.75" y="1272.80" font-size="12.0" text-anchor="start" fill="#231f20" >+</text>
<text x="111.45" y="1277.00" font-size="11.8" text-anchor="start" textLength="21.6" lengthAdjust="spacingAndGlyphs" fill="#231f20" >(0d)</text>
<line x1="176.50" y1="1259.50" x2="176.50" y2="1266.00" stroke="#231f20" stroke-width="1.9"/>
<text x="144.10" y="1277.00" font-size="11.8" text-anchor="start" textLength="36.0" lengthAdjust="spacingAndGlyphs" fill="#231f20" >CD127</text>
<text x="180.80" y="1272.80" font-size="12.0" text-anchor="start" fill="#231f20" >+</text>
<text x="187.50" y="1277.00" font-size="11.8" text-anchor="start" textLength="21.6" lengthAdjust="spacingAndGlyphs" fill="#231f20" >(4d)</text>
<line x1="252.60" y1="1259.50" x2="252.60" y2="1266.00" stroke="#231f20" stroke-width="1.9"/>
<text x="220.20" y="1277.00" font-size="11.8" text-anchor="start" textLength="36.0" lengthAdjust="spacingAndGlyphs" fill="#231f20" >CD127</text>
<text x="256.90" y="1272.80" font-size="12.0" text-anchor="start" fill="#231f20" >+</text>
<text x="263.60" y="1277.00" font-size="11.8" text-anchor="start" textLength="21.6" lengthAdjust="spacingAndGlyphs" fill="#231f20" >(7d)</text>
<line x1="328.65" y1="1259.50" x2="328.65" y2="1266.00" stroke="#231f20" stroke-width="1.9"/>
<text x="297.65" y="1277.00" font-size="11.8" text-anchor="start" textLength="36.0" lengthAdjust="spacingAndGlyphs" fill="#231f20" >CD127</text>
<line x1="334.65" y1="1270.00" x2="338.25" y2="1270.00" stroke="#231f20" stroke-width="1.2"/>
<text x="338.55" y="1277.00" font-size="11.8" text-anchor="start" textLength="20.8" lengthAdjust="spacingAndGlyphs" fill="#231f20" >(4d)</text>
<line x1="404.65" y1="1259.50" x2="404.65" y2="1266.00" stroke="#231f20" stroke-width="1.9"/>
<text x="373.65" y="1277.00" font-size="11.8" text-anchor="start" textLength="36.0" lengthAdjust="spacingAndGlyphs" fill="#231f20" >CD127</text>
<line x1="410.65" y1="1270.00" x2="414.25" y2="1270.00" stroke="#231f20" stroke-width="1.2"/>
<text x="414.55" y="1277.00" font-size="11.8" text-anchor="start" textLength="20.8" lengthAdjust="spacingAndGlyphs" fill="#231f20" >(7d)</text>
<text x="68.0" y="1063.80" font-size="15.5" fill="#231f20" textLength="94.2" lengthAdjust="spacingAndGlyphs">V&#955;1-7 - J&#955;1-5</text>
<path d="M100.0 1175.40 V1169.90 H252.4 V1175.40" fill="none" stroke="#231f20" stroke-width="1.5"/>
<text x="151.90" y="1164.50" font-size="12.6" text-anchor="start" textLength="49.0" lengthAdjust="spacingAndGlyphs" fill="#231f20" >p = 0.07</text>
</svg>
</body></html>
